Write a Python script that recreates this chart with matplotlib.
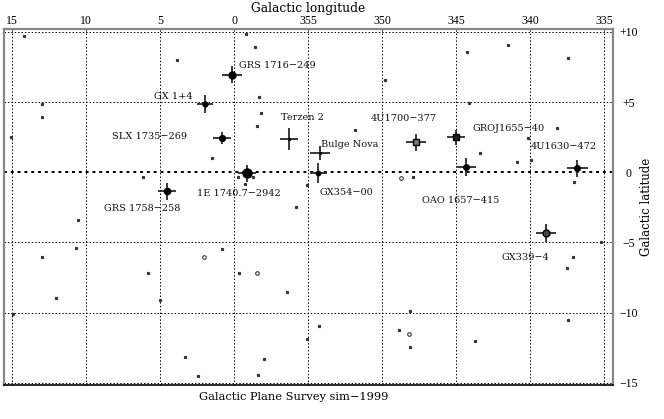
import matplotlib
matplotlib.use("Agg")
import matplotlib.pyplot as plt
import numpy as np

# ---------------- data ----------------
src_names = ["GRS 1716\u2212249", "GX 1+4", "SLX 1735\u2212269", "Terzen 2", "Bulge Nova",
             "1E 1740.7\u22122942", "GX354\u221200", "GRS 1758\u2212258", "4U1700\u2212377",
             "GROJ1655\u221240", "OAO 1657\u2212415", "4U1630\u2212472", "GX339\u22124"]
src_lon = [0.14, 1.96, 0.81, 356.3, 354.2, 359.12, 354.3, 4.53, 347.7, 345.0, 344.3, 336.8, 338.9]
src_lat = [6.93, 4.86, 2.43, 2.36, 1.36, -0.07, -0.07, -1.36, 2.14, 2.5, 0.36, 0.28, -4.3]
src_lon_err = [0.65, 0.55, 0.63, 0.62, 0.65, 0.6, 0.6, 0.64, 0.68, 0.63, 0.64, 0.7, 0.68]
src_lat_err = [0.6, 0.65, 0.4, 0.77, 0.5, 0.6, 0.7, 0.6, 0.6, 0.53, 0.65, 0.6, 0.65]

faint_lon = [14.19, 359.19, 358.58, 3.85, 12.97, 12.97, 358.31, 358.18, 358.45, 1.49, 15.1,
             6.15, 359.73, 359.26, 358.72, 355.07, 355.81, 10.54, 10.68, 12.97, 5.81, 12.03,
             0.81, 359.66, 356.42, 5.0, 14.93, 3.31, 2.43, 357.97, 358.38, 354.26, 355.07,
             344.26, 341.49, 337.43, 349.8, 344.12, 338.18, 351.82, 340.14, 343.38, 340.88,
             339.93, 347.91, 337.03, 337.09, 337.5, 335.2, 348.11, 348.85, 348.11, 343.72,
             337.43]
faint_lat = [9.71, 9.86, 8.93, 8.0, 4.86, 3.93, 5.36, 4.21, 3.29, 1.0, 2.5,
             -0.36, -0.36, -0.86, -0.36, -0.93, -2.5, -3.43, -5.36, -6.0, -7.14, -8.93,
             -5.5, -7.14, -8.5, -9.07, -10.07, -13.14, -14.5, -13.29, -14.43, -10.93, -11.86,
             8.57, 9.07, 8.14, 6.57, 4.93, 3.14, 3.0, 2.43, 1.36, 0.71,
             0.86, -0.36, -0.71, -6.0, -6.79, -5.0, -9.86, -11.21, -12.43, -12.0,
             -10.5]
ring_lon = [2.03, 358.45, 348.72, 348.18]
ring_lat = [-6.07, -7.14, -0.43, -11.5]

lon_ticks = [15, 10, 5, 0, 355, 350, 345, 340, 335]
lat_ticks = [10, 5, 0, -5, -10, -15]
lat_tick_labels = ["+10", "+5", "0", "\u22125", "\u221210", "\u221215"]

# ---------------- layout / style ----------------
def wrap(l):
    l = np.asarray(l, dtype=float)
    return np.where(l > 180, l - 360, l)

marker_style = ["o", "o", "o", "o", "o", "o", "o", "o", "s", "s", "o", "o", "o"]
marker_size = [5.0, 3.5, 4.2, 1.5, 1.5, 6.5, 3.2, 4.5, 4.5, 4.2, 4.0, 4.0, 5.0]
marker_face = ["black", "black", "black", "black", "black", "black", "black", "black",
               "#777777", "#222222", "black", "black", "#444444"]
# label offsets in pixels (dx, dy) and horizontal alignment
label_off = [(7, 9.5), (-12, 7), (-35, 2), (-8, 22), (1, 9), (-50, -20), (1, -19),
             (-63, -17), (-45, 24), (16, 9), (-44, -33), (-47, 22), (-45, -25)]
label_ha = ["left", "right", "right", "left", "left", "left", "left", "left", "left",
            "left", "left", "left", "left"]

serif = ["DejaVu Serif"]
tickfont = ["Liberation Serif", "DejaVu Serif"]

fig = plt.figure(figsize=(6.64, 4.19), dpi=100)
ax = fig.add_axes([4 / 664, 1 - 385 / 419, (613 - 4) / 664, (385 - 29) / 419])
ax.set_xlim(15.54, -25.6)
ax.set_ylim(-15.15, 10.2)

# grid
for t in lon_ticks:
    ax.axvline(wrap([t])[0], color="black", lw=0.7, ls=(0, (1.5, 2.0)), zorder=1)
for t in lat_ticks:
    lw = 1.4 if t == 0 else 0.7
    ax.axhline(t, color="black", lw=lw, ls=(0, (1.5, 2.0)), zorder=1)

# faint sources
ax.plot(wrap(faint_lon), faint_lat, linestyle="none", marker="s", ms=1.3,
        mfc="#333333", mec="#333333", zorder=2)
ax.plot(wrap(ring_lon), ring_lat, linestyle="none", marker="o", ms=2.6,
        mfc="white", mec="#222222", mew=0.7, zorder=2)

# bright sources with error crosses
xs = wrap(src_lon)
ax.errorbar(xs, src_lat, xerr=src_lon_err, yerr=src_lat_err, fmt="none",
            ecolor="#2a2a2a", elinewidth=1.3, capsize=0, zorder=3)
for i in range(len(src_names)):
    ax.plot(xs[i], src_lat[i], marker=marker_style[i], ms=marker_size[i],
            mfc=marker_face[i], mec="black", mew=1.0, zorder=4)
    ax.annotate(src_names[i], (xs[i], src_lat[i]), xytext=label_off[i],
                textcoords="offset pixels", ha=label_ha[i], va="center",
                fontsize=7, family=serif, color="#111111", zorder=5)

# axes frame
for side in ["top", "left", "right"]:
    ax.spines[side].set_color("#888888")
    ax.spines[side].set_linewidth(1.6)
ax.spines["bottom"].set_color("black")
ax.spines["bottom"].set_linewidth(1.2)

ax.set_xticks(wrap(lon_ticks))
ax.set_xticklabels([str(t) for t in lon_ticks], family=tickfont, fontsize=8.5)
ax.xaxis.tick_top()
ax.tick_params(axis="x", length=0, pad=1.5)
ax.set_yticks(lat_ticks)
ax.set_yticklabels(lat_tick_labels, family=tickfont, fontsize=8.5, ha="center")
ax.yaxis.tick_right()
ax.tick_params(axis="y", length=0, pad=11)

ax.set_xlabel("Galactic longitude", family=serif, fontsize=8.8)
ax.xaxis.set_label_position("top")
ax.xaxis.labelpad = 2
ax.set_ylabel("Galactic latitude", family=serif, fontsize=8.5)
ax.yaxis.set_label_position("right")
ax.yaxis.labelpad = 2

fig.text(294 / 664, 1 - 397 / 419, "Galactic Plane Survey sim\u22121999",
         ha="center", va="center", family=serif, fontsize=8.2)

fig.savefig("out.png", dpi=100)
